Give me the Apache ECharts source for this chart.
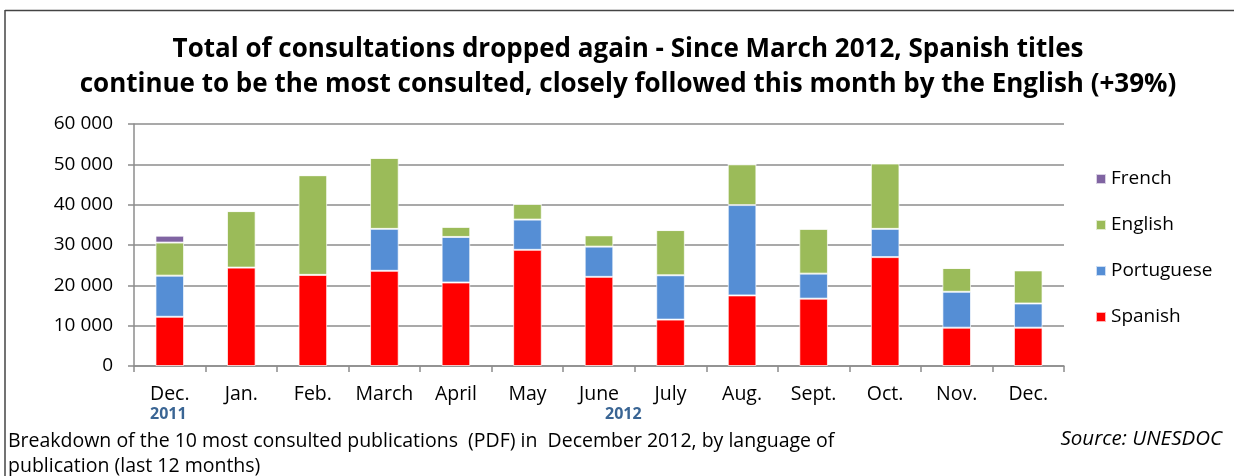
<!DOCTYPE html>
<html>
<head>
<meta charset="utf-8">
<script src="https://cdn.jsdelivr.net/npm/echarts@6/dist/echarts.min.js"></script>
<style>
  html, body { margin: 0; padding: 0; background: #fff; }
  #main { width: 1234px; height: 476px; }
</style>
</head>
<body>
<div id="main"></div>
<script>
// months (Dec. 2011 -> Dec. 2012)
var months = ['Dec.', 'Jan.', 'Feb.', 'March', 'April', 'May', 'June', 'July', 'Aug.', 'Sept.', 'Oct.', 'Nov.', 'Dec.'];
var spanish    = [12200, 24400, 22600, 23600, 20700, 28800, 22100, 11500, 17500, 16700, 27000, 9500, 9500];
var portuguese = [10200, 0, 0, 10400, 11300, 7500, 7500, 11000, 22400, 6200, 7000, 8900, 6000];
var english    = [8200, 14000, 24700, 17600, 2500, 3900, 2800, 11200, 10100, 11100, 16200, 5900, 8200];
var french     = [1700, 0, 0, 0, 0, 0, 0, 0, 0, 0, 0, 0, 0];
var yTicks = [0, 10000, 20000, 30000, 40000, 50000, 60000];

var font = '"Open Sans", Lato, sans-serif';

function fmt(v){
    // 10000 -> "10 000"
    return String(v).replace(/\B(?=(\d{3})+(?!\d))/g, ' ');
}

var barBorder = { borderColor: 'rgba(255,255,255,0.7)', borderWidth: 1 };

var myChart = echarts.init(document.getElementById('main'));
var option = {
    animation: false,
    title: {
        text: 'Total of consultations dropped again - Since March 2012, Spanish titles\ncontinue to be the most consulted, closely followed this month by the English (+39%)',
        left: 623,
        top: 27,
        textAlign: 'center',
        textStyle: { fontFamily: font, fontSize: 26, fontWeight: 'bold', color: '#000', lineHeight: 35 }
    },
    legend: {
        orient: 'vertical',
        left: 1090,
        top: 164,
        itemWidth: 10,
        itemHeight: 10,
        itemGap: 26,
        icon: 'rect',
        data: ['French', 'English', 'Portuguese', 'Spanish'],
        textStyle: { fontFamily: font, fontSize: 19, color: '#000', lineHeight: 20 }
    },
    grid: { left: 134, right: 170, top: 124, bottom: 110 },
    xAxis: {
        type: 'category',
        data: months,
        axisLine: { lineStyle: { color: '#8c8c8c', width: 1.5 } },
        axisTick: { show: true, length: 6, lineStyle: { color: '#8c8c8c', width: 1.5 } },
        axisLabel: { fontFamily: font, fontSize: 19.5, color: '#000', margin: 18, interval: 0 }
    },
    yAxis: {
        type: 'value',
        min: yTicks[0],
        max: yTicks[yTicks.length - 1],
        interval: 10000,
        axisLine: { show: true, lineStyle: { color: '#8c8c8c', width: 1.5 } },
        axisTick: { show: true, length: 6, lineStyle: { color: '#8c8c8c', width: 1.5 } },
        axisLabel: { fontFamily: font, fontSize: 19, color: '#000', margin: 21, formatter: fmt },
        splitLine: { lineStyle: { color: '#8c8c8c', width: 1.5 } }
    },
    series: [
        { name: 'Spanish', type: 'bar', stack: 'all', barWidth: '40%', data: spanish,
          itemStyle: Object.assign({ color: '#ff0000' }, barBorder) },
        { name: 'Portuguese', type: 'bar', stack: 'all', data: portuguese,
          itemStyle: Object.assign({ color: '#558ed5' }, barBorder) },
        { name: 'English', type: 'bar', stack: 'all', data: english,
          itemStyle: Object.assign({ color: '#9bbb59' }, barBorder) },
        { name: 'French', type: 'bar', stack: 'all', data: french,
          itemStyle: Object.assign({ color: '#8064a2' }, barBorder) }
    ],
    graphic: [
        { type: 'line', shape: { x1: 5, y1: 10.5, x2: 1234, y2: 10.5 }, style: { stroke: '#444', lineWidth: 1.5 } },
        { type: 'line', shape: { x1: 5, y1: 10, x2: 5, y2: 476 }, style: { stroke: '#444', lineWidth: 1.5 } },
        { type: 'text', left: 150, top: 406, style: { text: '2011', font: 'bold 16px ' + font, fill: '#3a6594' } },
        { type: 'text', left: 605, top: 406, style: { text: '2012', font: 'bold 16px ' + font, fill: '#3a6594' } },
        { type: 'text', left: 8, top: 429, style: { text: 'Breakdown of the 10 most consulted publications  (PDF) in  December 2012, by language of\npublication (last 12 months)', font: '19.5px ' + font, fill: '#000', lineHeight: 25 } },
        { type: 'text', right: 12, top: 429, style: { text: 'Source: UNESDOC', font: 'italic 20.5px ' + font, fill: '#000' } }
    ]
};
myChart.setOption(option);
</script>
</body>
</html>
